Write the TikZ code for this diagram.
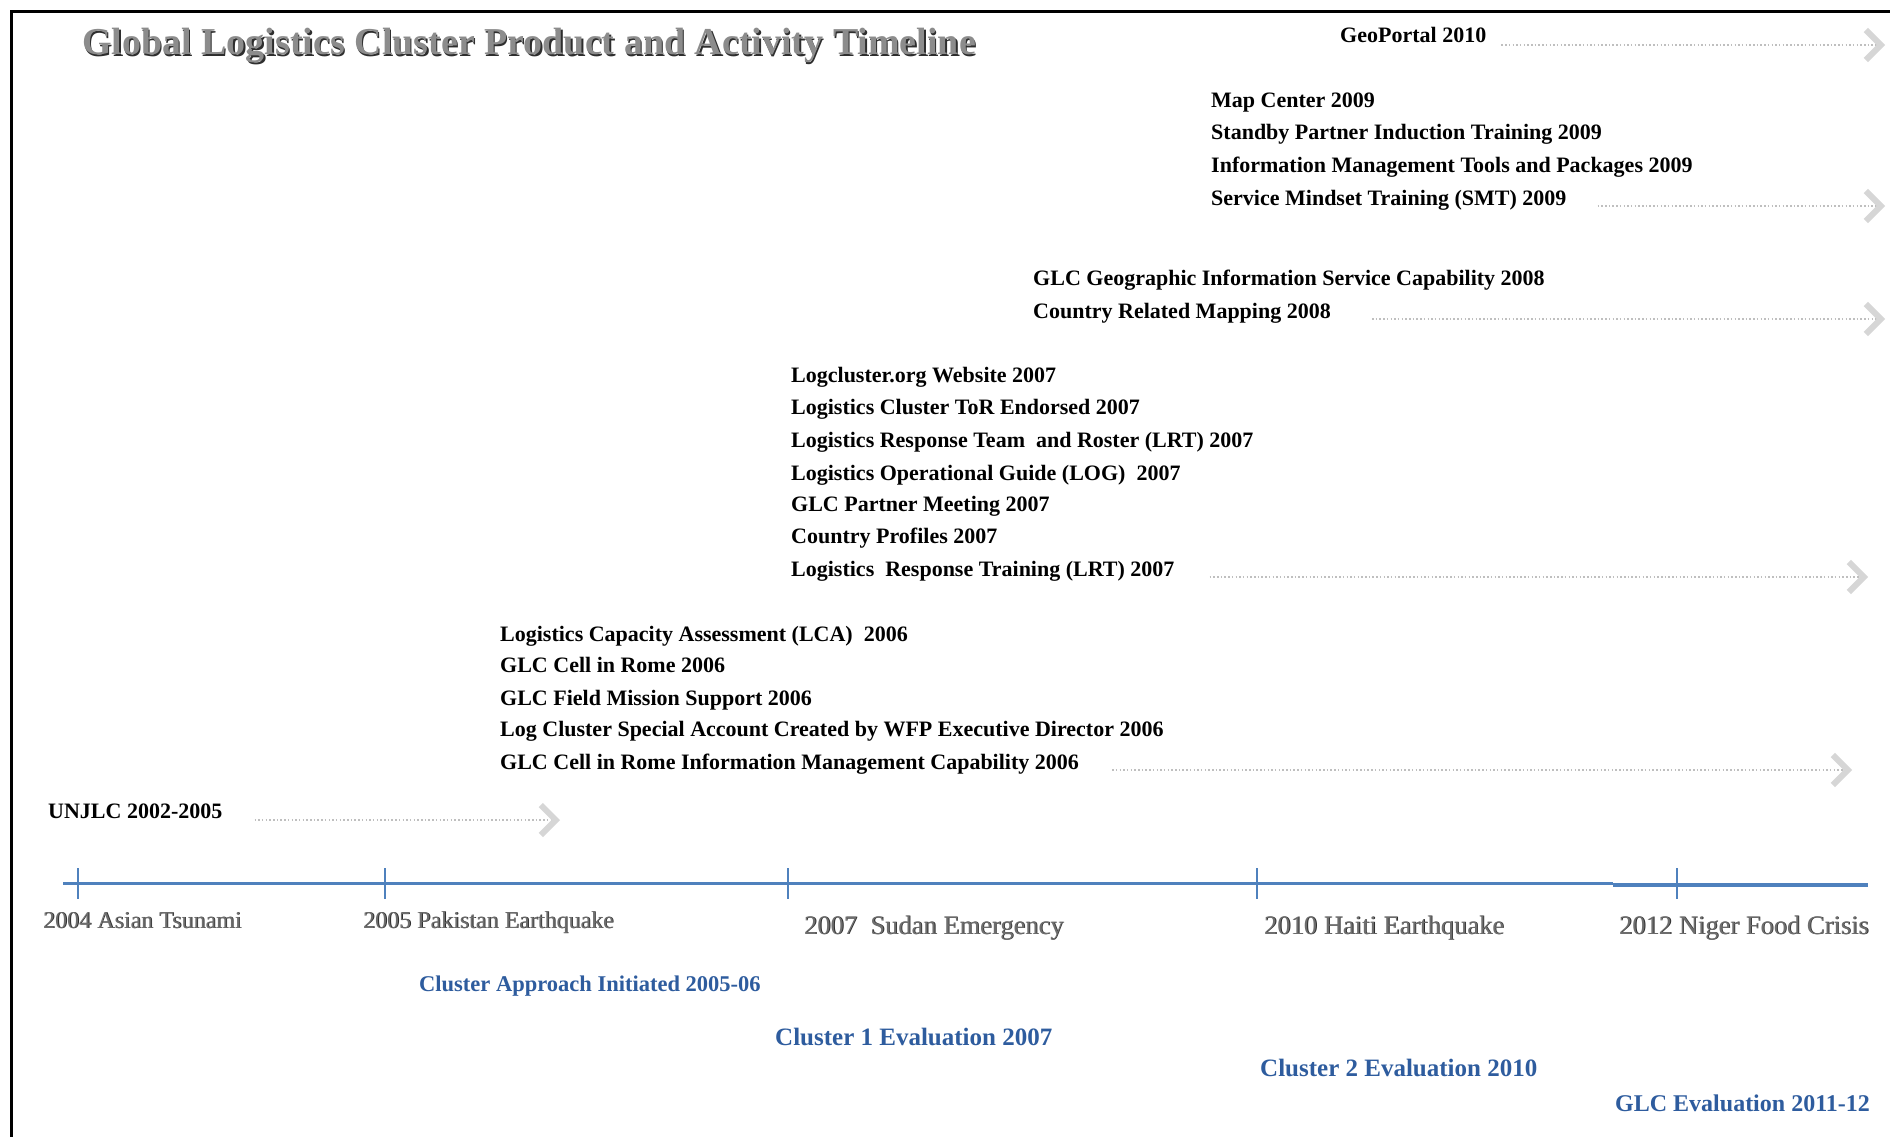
\documentclass[tikz,border=0pt]{standalone}
\usepackage{fontspec}
\setmainfont{Liberation Serif}
\usetikzlibrary{arrows.meta,calc}
\definecolor{tlblue}{HTML}{4F81BD}
\definecolor{evblue}{HTML}{2E5C9E}
\definecolor{arrgray}{HTML}{BFBFBF}
\definecolor{headgray}{HTML}{D6D6D6}
\definecolor{labgray}{HTML}{6E6E6E}
\definecolor{shadgray}{HTML}{2E2E2E}
\definecolor{titlegray}{HTML}{8C8C8C}
\newcommand\shtxt[3]{\makebox[0pt][l]{\hspace{#1}\raisebox{-#1}{\textcolor{shadgray}{#3}}}\textcolor{#2}{#3}}
\begin{document}
\begin{tikzpicture}[x=1pt,y=-1pt,
  item/.style={anchor=base west,inner sep=0pt,font=\fontsize{22}{26}\selectfont\bfseries},
  evlab/.style={anchor=base west,inner sep=0pt,text=evblue},
  tllab/.style={anchor=base west,inner sep=0pt},
  arr/.style={draw=arrgray,line width=1.5pt,dash pattern=on 1.5pt off 2.2pt,
    -{Straight Barb[length=15pt,width=30pt,line width=6pt,color=headgray]}},
  tick/.style={draw=tlblue,line width=1.8pt}
]
\useasboundingbox (0,0) rectangle (1890,1137);
\fill[white] (0,0) rectangle (1890,1137);
\draw[line width=3pt,line join=miter] (11,1137) -- (11,12) -- (1890,12);

% title
\node[tllab,font=\fontsize{38}{44}\selectfont\bfseries] (title) at (82,55)
  {\shtxt{1.4pt}{titlegray}{Global Logistics Cluster Product and Activity Timeline}};

% 2010
\node[item] (geo) at (1340,43) {GeoPortal 2010};
\coordinate (geoE) at (1885,45);
\draw[arr] ($(geo.base east |- geoE)+(15,0)$) -- (geoE);

% 2009
\node[item] (map) at (1211,108) {Map Center 2009};
\node[item] (stb) at (1211,140) {Standby Partner Induction Training 2009};
\node[item] (imt) at (1211,172) {Information Management Tools and Packages 2009};
\node[item] (smt) at (1211,205) {Service Mindset Training (SMT) 2009};
\coordinate (smtE) at (1885,206);
\draw[arr] ($(smt.base east |- smtE)+(31,0)$) -- (smtE);

% 2008
\node[item] (gis) at (1033,285) {GLC Geographic Information Service Capability 2008};
\node[item] (crm) at (1033,318) {Country Related Mapping 2008};
\coordinate (crmE) at (1885,319);
\draw[arr] ($(crm.base east |- crmE)+(41,0)$) -- (crmE);

% 2007
\node[item] (web) at (791,382) {Logcluster.org Website 2007};
\node[item] (tor) at (791,414) {Logistics Cluster ToR Endorsed 2007};
\node[item] (lrt) at (791,447) {Logistics Response Team\ \ and Roster (LRT) 2007};
\node[item] (log) at (791,480) {Logistics Operational Guide (LOG)\ \ 2007};
\node[item] (gpm) at (791,511) {GLC Partner Meeting 2007};
\node[item] (cp) at (791,543) {Country Profiles 2007};
\node[item] (lrtr) at (791,576) {Logistics\ \ Response Training (LRT) 2007};
\coordinate (lrtrE) at (1868,577);
\draw[arr] ($(lrtr.base east |- lrtrE)+(35,0)$) -- (lrtrE);

% 2006
\node[item] (lca) at (500,641) {Logistics Capacity Assessment (LCA)\ \ 2006};
\node[item] (rome) at (500,672) {GLC Cell in Rome 2006};
\node[item] (fms) at (500,705) {GLC Field Mission Support 2006};
\node[item] (acc) at (500,736) {Log Cluster Special Account Created by WFP Executive Director 2006};
\node[item] (im) at (500,769) {GLC Cell in Rome Information Management Capability 2006};
\coordinate (imE) at (1852,770);
\draw[arr] ($(im.base east |- imE)+(33,0)$) -- (imE);

% UNJLC
\node[item] (unjlc) at (48,818) {UNJLC 2002-2005};
\coordinate (unjlcE) at (560,820);
\draw[arr] ($(unjlc.base east |- unjlcE)+(32,0)$) -- (unjlcE);

% timeline
\draw[draw=tlblue,line width=3.5pt] (63,883.5) -- (1613,883.5);
\draw[draw=tlblue,line width=3.5pt] (1613,885) -- (1868,885);
\foreach \x in {78,385,788,1257,1677} \draw[tick] (\x,868) -- (\x,899);

\node[tllab,font=\fontsize{24}{28}\selectfont] (e04) at (43,928) {\shtxt{0.8pt}{labgray}{2004 Asian Tsunami}};
\node[tllab,font=\fontsize{24}{28}\selectfont] (e05) at (363,928) {\shtxt{0.8pt}{labgray}{2005 Pakistan Earthquake}};
\node[tllab,font=\fontsize{26.5}{30}\selectfont] (e07) at (804,934) {\shtxt{0.8pt}{labgray}{2007\ \ Sudan Emergency}};
\node[tllab,font=\fontsize{26.5}{30}\selectfont] (e10) at (1264,934) {\shtxt{0.8pt}{labgray}{2010 Haiti Earthquake}};
\node[tllab,font=\fontsize{26.5}{30}\selectfont] (e12) at (1619,934) {\shtxt{0.8pt}{labgray}{2012 Niger Food Crisis}};

% evaluations
\node[evlab,font=\fontsize{22.5}{26}\selectfont\bfseries] (ca) at (419,991.5) {Cluster Approach Initiated 2005-06};
\node[evlab,font=\fontsize{25}{29}\selectfont\bfseries] (c1) at (775,1045) {Cluster 1 Evaluation 2007};
\node[evlab,font=\fontsize{25}{29}\selectfont\bfseries] (c2) at (1260,1076) {Cluster 2 Evaluation 2010};
\node[evlab,font=\fontsize{24}{28}\selectfont\bfseries] (glce) at (1615,1111) {GLC Evaluation 2011-12};
\end{tikzpicture}
\end{document}
